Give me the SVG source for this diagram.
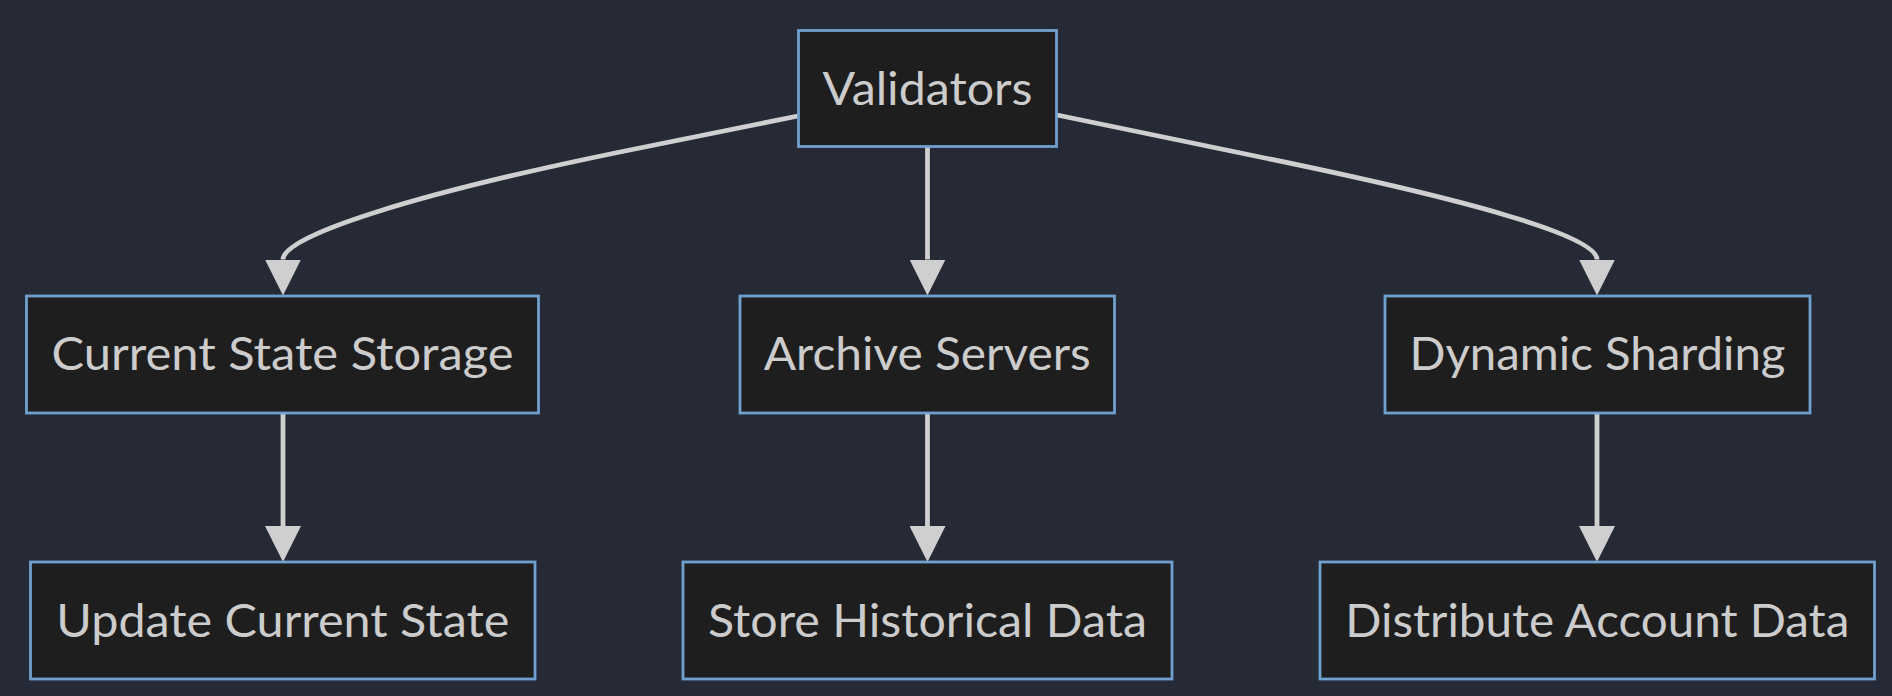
<svg xmlns="http://www.w3.org/2000/svg" width="1892" height="696" viewBox="0 0 1892 696">
  <style>
    .node rect { fill: #1e1e1e; stroke: #70a0d0; stroke-width: 2.8; }
    .node text { fill: #cccccc; font-family: Lato, "Liberation Sans", sans-serif; font-size: 47px; text-anchor: middle; }
    .edge { fill: none; stroke: #cfcfcf; stroke-width: 4.8; marker-end: url(#arrow); }
  </style>
  <defs>
    <marker id="arrow" viewBox="0 0 10 10" refX="0" refY="5" markerUnits="userSpaceOnUse" markerWidth="36" markerHeight="36" orient="auto">
      <path d="M0,0 L10,5 L0,10 z" fill="#cfcfcf"/>
    </marker>
  </defs>
  <rect x="0" y="0" width="1892" height="696" fill="#262a36"/>
  <g id="connectors">
    <path class="edge" d="M798,116 L620,152 C420,193 283,235 283,259.5"/>
    <path class="edge" d="M927.5,147 L927.5,259.5"/>
    <path class="edge" d="M1057,115 L1260,157 C1460,198 1597,235 1597,259.5"/>
    <path class="edge" d="M283,413 L283,526"/>
    <path class="edge" d="M927.5,413 L927.5,526"/>
    <path class="edge" d="M1597,413 L1597,526"/>
  </g>
  <g id="validators" class="node">
    <rect x="798.5" y="30.5" width="258" height="116"/>
    <text x="927.5" y="105" textLength="210" lengthAdjust="spacingAndGlyphs">Validators</text>
  </g>
  <g id="current-state-storage" class="node">
    <rect x="26.5" y="296" width="512" height="117"/>
    <text x="282.5" y="370" textLength="462" lengthAdjust="spacingAndGlyphs">Current State Storage</text>
  </g>
  <g id="archive-servers" class="node">
    <rect x="740" y="296" width="374.5" height="117"/>
    <text x="927.3" y="370" textLength="327" lengthAdjust="spacingAndGlyphs">Archive Servers</text>
  </g>
  <g id="dynamic-sharding" class="node">
    <rect x="1385" y="296" width="425" height="117"/>
    <text x="1597.5" y="370" textLength="376" lengthAdjust="spacingAndGlyphs">Dynamic Sharding</text>
  </g>
  <g id="update-current-state" class="node">
    <rect x="30.5" y="562" width="504.5" height="117"/>
    <text x="282.8" y="637" textLength="453" lengthAdjust="spacingAndGlyphs">Update Current State</text>
  </g>
  <g id="store-historical-data" class="node">
    <rect x="683" y="562" width="489" height="117"/>
    <text x="927.5" y="637" textLength="439" lengthAdjust="spacingAndGlyphs">Store Historical Data</text>
  </g>
  <g id="distribute-account-data" class="node">
    <rect x="1320" y="562" width="554.5" height="117"/>
    <text x="1597.3" y="637" textLength="504" lengthAdjust="spacingAndGlyphs">Distribute Account Data</text>
  </g>
</svg>
